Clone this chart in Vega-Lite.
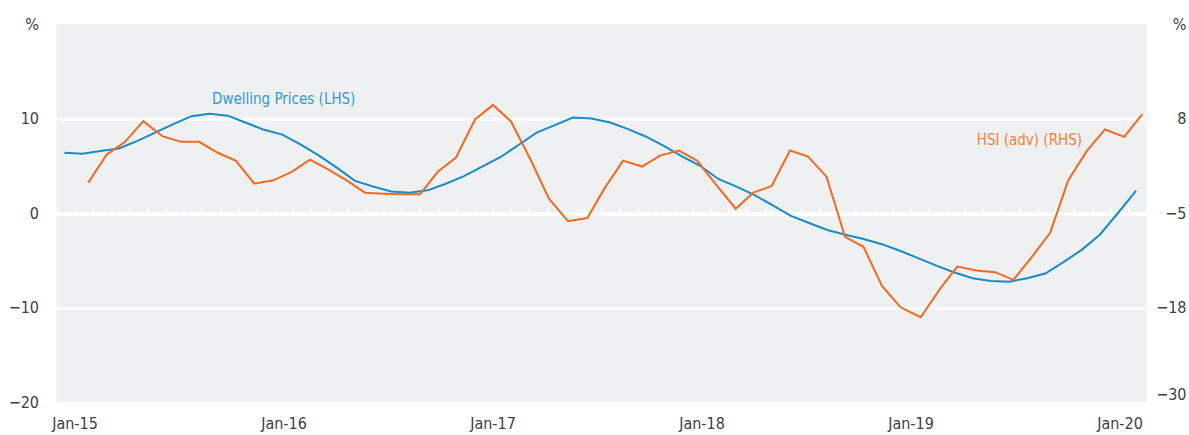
{
  "$schema": "https://vega.github.io/schema/vega-lite/v6.json",
  "width": 1090,
  "height": 378,
  "autosize": {"type": "none"},
  "padding": {"left": 56.5, "top": 24, "right": 42.5, "bottom": 33},
  "config": {
    "view": {"fill": "#eff0f2", "stroke": null},
    "font": "DejaVu Sans Condensed, Roboto, sans-serif",
    "axis": {"labelFont": "DejaVu Sans Condensed, Roboto, sans-serif", "labelFontSize": 16, "labelColor": "#404040"}
  },
  "datasets": {
    "dwelling": [
      {"year": 2014.9512, "value": 6.37}, {"year": 2015.0381, "value": 6.26}, {"year": 2015.1250, "value": 6.55},
      {"year": 2015.2120, "value": 6.83}, {"year": 2015.2989, "value": 7.6}, {"year": 2015.3858, "value": 8.5},
      {"year": 2015.4727, "value": 9.4}, {"year": 2015.5597, "value": 10.25}, {"year": 2015.6466, "value": 10.5},
      {"year": 2015.7335, "value": 10.3}, {"year": 2015.8204, "value": 9.55}, {"year": 2015.9073, "value": 8.8},
      {"year": 2015.9943, "value": 8.3}, {"year": 2016.0812, "value": 7.25}, {"year": 2016.1681, "value": 6.1},
      {"year": 2016.2550, "value": 4.8}, {"year": 2016.3420, "value": 3.4}, {"year": 2016.4289, "value": 2.8},
      {"year": 2016.5158, "value": 2.27}, {"year": 2016.6027, "value": 2.15}, {"year": 2016.6896, "value": 2.4},
      {"year": 2016.7766, "value": 3.1}, {"year": 2016.8635, "value": 3.9}, {"year": 2016.9504, "value": 4.9},
      {"year": 2017.0373, "value": 5.9}, {"year": 2017.1243, "value": 7.2}, {"year": 2017.2112, "value": 8.5},
      {"year": 2017.2981, "value": 9.3}, {"year": 2017.3850, "value": 10.1}, {"year": 2017.4719, "value": 10.0},
      {"year": 2017.5589, "value": 9.6}, {"year": 2017.6458, "value": 8.9}, {"year": 2017.7327, "value": 8.1},
      {"year": 2017.8196, "value": 7.1}, {"year": 2017.9066, "value": 6.0}, {"year": 2017.9935, "value": 5.0},
      {"year": 2018.0804, "value": 3.6}, {"year": 2018.1673, "value": 2.8}, {"year": 2018.2542, "value": 1.9},
      {"year": 2018.3412, "value": 0.8}, {"year": 2018.4281, "value": -0.3}, {"year": 2018.5150, "value": -1.06},
      {"year": 2018.6019, "value": -1.8}, {"year": 2018.6889, "value": -2.3}, {"year": 2018.7758, "value": -2.75},
      {"year": 2018.8627, "value": -3.3}, {"year": 2018.9496, "value": -4.0}, {"year": 2019.0365, "value": -4.78},
      {"year": 2019.1235, "value": -5.57}, {"year": 2019.2104, "value": -6.3}, {"year": 2019.2973, "value": -6.9},
      {"year": 2019.3842, "value": -7.19}, {"year": 2019.4712, "value": -7.27}, {"year": 2019.5581, "value": -6.9},
      {"year": 2019.6450, "value": -6.4}, {"year": 2019.7319, "value": -5.2}, {"year": 2019.8188, "value": -3.9},
      {"year": 2019.9058, "value": -2.3}, {"year": 2019.9927, "value": 0.0}, {"year": 2020.0796, "value": 2.37}
    ],
    "hsi": [
      {"year": 2015.0660, "value": -0.82}, {"year": 2015.1541, "value": 3.04}, {"year": 2015.2416, "value": 4.79},
      {"year": 2015.3292, "value": 7.63}, {"year": 2015.4201, "value": 5.57}, {"year": 2015.5096, "value": 4.79},
      {"year": 2015.5971, "value": 4.79}, {"year": 2015.6833, "value": 3.32}, {"year": 2015.7727, "value": 2.17},
      {"year": 2015.8603, "value": -0.96}, {"year": 2015.9512, "value": -0.5}, {"year": 2016.0392, "value": 0.66},
      {"year": 2016.1268, "value": 2.35}, {"year": 2016.2153, "value": 0.97}, {"year": 2016.3038, "value": -0.54},
      {"year": 2016.3900, "value": -2.2}, {"year": 2016.4785, "value": -2.34}, {"year": 2016.5656, "value": -2.43},
      {"year": 2016.6531, "value": -2.43}, {"year": 2016.7392, "value": 0.7}, {"year": 2016.8254, "value": 2.63},
      {"year": 2016.9163, "value": 7.87}, {"year": 2017.0024, "value": 9.87}, {"year": 2017.0885, "value": 7.59},
      {"year": 2017.1794, "value": 2.49}, {"year": 2017.2703, "value": -3.03}, {"year": 2017.3612, "value": -6.13},
      {"year": 2017.4536, "value": -5.69}, {"year": 2017.5383, "value": -1.51}, {"year": 2017.6244, "value": 2.21},
      {"year": 2017.7153, "value": 1.39}, {"year": 2017.8014, "value": 2.9}, {"year": 2017.8923, "value": 3.59},
      {"year": 2017.9785, "value": 2.21}, {"year": 2018.0694, "value": -1.1}, {"year": 2018.1636, "value": -4.41},
      {"year": 2018.2478, "value": -2.2}, {"year": 2018.3359, "value": -1.28}, {"year": 2018.4234, "value": 3.59},
      {"year": 2018.5096, "value": 2.77}, {"year": 2018.5981, "value": 0.0}, {"year": 2018.6866, "value": -8.27},
      {"year": 2018.7751, "value": -9.65}, {"year": 2018.8636, "value": -15.03}, {"year": 2018.9522, "value": -17.97},
      {"year": 2019.0488, "value": -19.34}, {"year": 2019.1411, "value": -15.44}, {"year": 2019.2239, "value": -12.37},
      {"year": 2019.3167, "value": -12.92}, {"year": 2019.4043, "value": -13.14}, {"year": 2019.4919, "value": -14.2},
      {"year": 2019.5799, "value": -11.07}, {"year": 2019.6675, "value": -7.76}, {"year": 2019.7550, "value": -0.5},
      {"year": 2019.8431, "value": 3.5}, {"year": 2019.9306, "value": 6.49}, {"year": 2020.0229, "value": 5.48},
      {"year": 2020.1091, "value": 8.6}
    ]
  },
  "layer": [
    {
      "data": {"name": "dwelling"},
      "mark": {"type": "line", "color": "#1a8bc5", "strokeWidth": 2},
      "encoding": {
        "x": {
          "field": "year", "type": "quantitative", "title": null,
          "scale": {"domain": [2014.9139, 2020.1292], "nice": false, "zero": false},
          "axis": {
            "orient": "bottom", "values": [2015, 2016, 2017, 2018, 2019, 2020],
            "labelExpr": "'Jan-' + substring(toString(datum.value), 2, 4)",
            "ticks": false, "domain": false, "grid": false,
            "labelPadding": 13, "labelFlush": false, "labelOverlap": false, "labelBound": false
          }
        },
        "y": {
          "field": "value", "type": "quantitative", "title": null,
          "scale": {"domain": [-20, 20], "nice": false, "zero": false},
          "axis": {
            "orient": "left", "values": [-20, -10, 0, 10, 20],
            "labelExpr": "datum.value == 20 ? '%' : datum.label",
            "ticks": false, "domain": false,
            "grid": true, "gridColor": "#ffffff", "gridWidth": 2.5,
            "gridOpacity": {"condition": {"test": "abs(datum.value) == 20", "value": 0}, "value": 1},
            "labelPadding": 18, "labelAlign": "right", "labelBaseline": "middle"
          }
        }
      }
    },
    {
      "data": {"name": "hsi"},
      "mark": {"type": "line", "color": "#f26a21", "strokeWidth": 2},
      "encoding": {
        "x": {
          "field": "year", "type": "quantitative", "title": null,
          "scale": {"domain": [2014.9139, 2020.1292], "nice": false, "zero": false},
          "axis": {
            "orient": "top", "offset": -190.3,
            "values": [2014.9139, 2015.0008, 2015.0877, 2015.1747, 2015.2616, 2015.3485, 2015.4354, 2015.5224, 2015.6093, 2015.6962, 2015.7831, 2015.8700, 2015.9570, 2016.0439, 2016.1308, 2016.2177, 2016.3047, 2016.3916, 2016.4785, 2016.5654, 2016.6523, 2016.7393, 2016.8262, 2016.9131, 2017.0000, 2017.0870, 2017.1739, 2017.2608, 2017.3477, 2017.4347, 2017.5216, 2017.6085, 2017.6954, 2017.7823, 2017.8693, 2017.9562, 2018.0431, 2018.1300, 2018.2170, 2018.3039, 2018.3908, 2018.4777, 2018.5646, 2018.6516, 2018.7385, 2018.8254, 2018.9123, 2018.9993, 2019.0862, 2019.1731, 2019.2600, 2019.3469, 2019.4339, 2019.5208, 2019.6077, 2019.6946, 2019.7816, 2019.8685, 2019.9554, 2020.0423, 2020.1292],
            "labels": false, "grid": false,
            "domain": true, "domainColor": "#ffffff", "domainWidth": 2.5,
            "ticks": true, "tickColor": "#ffffff", "tickWidth": 2, "tickSize": 7
          }
        },
        "y": {
          "field": "value", "type": "quantitative", "title": null,
          "scale": {"domain": [-31, 21], "nice": false, "zero": false},
          "axis": {
            "orient": "right", "values": [-30, -18, -5, 8, 21],
            "labelExpr": "datum.value == 21 ? '%' : datum.label",
            "ticks": false, "domain": false, "grid": false,
            "labelPadding": 39.5, "labelAlign": "right", "labelBaseline": "middle"
          }
        }
      }
    },
    {
      "data": {"values": [{"year": 2015.658, "value": 12.1, "label": "Dwelling Prices (LHS)"}]},
      "mark": {"type": "text", "align": "left", "baseline": "middle", "color": "#2e9bd6", "fontSize": 15},
      "encoding": {
        "x": {"field": "year", "type": "quantitative", "scale": {"domain": [2014.9139, 2020.1292], "nice": false, "zero": false}, "axis": null},
        "y": {"field": "value", "type": "quantitative", "scale": {"domain": [-20, 20], "nice": false, "zero": false}, "axis": null},
        "text": {"field": "label"}
      }
    },
    {
      "data": {"values": [{"year": 2019.317, "value": 7.7, "label": "HSI (adv) (RHS)"}]},
      "mark": {"type": "text", "align": "left", "baseline": "middle", "color": "#f57f3a", "fontSize": 15},
      "encoding": {
        "x": {"field": "year", "type": "quantitative", "scale": {"domain": [2014.9139, 2020.1292], "nice": false, "zero": false}, "axis": null},
        "y": {"field": "value", "type": "quantitative", "scale": {"domain": [-20, 20], "nice": false, "zero": false}, "axis": null},
        "text": {"field": "label"}
      }
    }
  ],
  "resolve": {"scale": {"y": "independent"}, "axis": {"x": "independent", "y": "independent"}}
}
